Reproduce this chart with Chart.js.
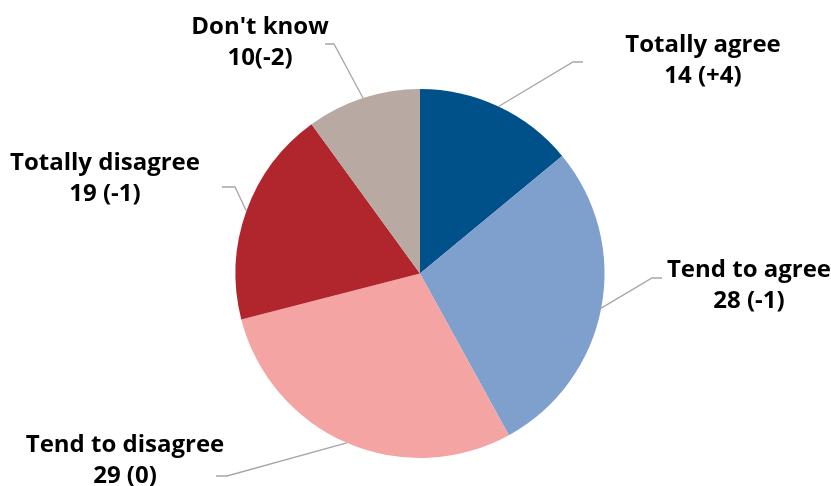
<!DOCTYPE html>
<html>
<head>
<meta charset="utf-8">
<script src="https://cdn.jsdelivr.net/npm/chart.js@4/dist/chart.umd.min.js"></script>
<style>
  html, body { margin: 0; padding: 0; background: #fff; }
  #wrap { width: 831px; height: 486px; position: relative; }
</style>
</head>
<body>
<div id="wrap"><canvas id="pie" width="831" height="486"></canvas></div>
<script>
// data
const categories = ["Totally agree", "Tend to agree", "Tend to disagree", "Totally disagree", "Don't know"];
const values = [14, 28, 29, 19, 10];
const changes = ["(+4)", "(-1)", "(0)", "(-1)", "(-2)"];
const colors = ["#00508a", "#7fa0cc", "#f4a4a3", "#b1252c", "#b8aaa3"];

// label layout: elbow point, end of short horizontal, text centre, first line y
const labelLayout = [
  { elbow: [573, 62], end: [583, 62], tx: 703, ty: 45 },
  { elbow: [652, 278], end: [662, 278], tx: 749, ty: 270 },
  { elbow: [227, 476], end: [216, 476], tx: 125, ty: 445 },
  { elbow: [235, 187], end: [222, 187], tx: 105, ty: 163 },
  { elbow: [334, 44], end: [325, 44], tx: 260, ty: 27 },
];

const leaderLabels = {
  id: "leaderLabels",
  afterDraw(chart) {
    const ctx = chart.ctx;
    const arcs = chart.getDatasetMeta(0).data;
    ctx.save();
    arcs.forEach((arc, i) => {
      const mid = (arc.startAngle + arc.endAngle) / 2;
      const sx = arc.x + Math.cos(mid) * arc.outerRadius;
      const sy = arc.y + Math.sin(mid) * arc.outerRadius;
      const l = labelLayout[i];
      ctx.strokeStyle = "#a6a6a6";
      ctx.lineWidth = 1.3;
      ctx.beginPath();
      ctx.moveTo(sx, sy);
      ctx.lineTo(l.elbow[0], l.elbow[1]);
      ctx.lineTo(l.end[0], l.end[1]);
      ctx.stroke();

      ctx.fillStyle = "#000";
      ctx.font = "bold 24px 'Open Sans', sans-serif";
      ctx.textAlign = "center";
      ctx.textBaseline = "middle";
      ctx.fillText(categories[i], l.tx, l.ty);
      const sep = i === 4 ? "" : " ";
      ctx.fillText(values[i] + sep + changes[i], l.tx, l.ty + 31);
    });
    ctx.restore();
  },
};

new Chart(document.getElementById("pie").getContext("2d"), {
  type: "pie",
  data: {
    labels: categories,
    datasets: [{
      data: values,
      backgroundColor: colors,
      borderWidth: 0,
    }],
  },
  options: {
    responsive: false,
    animation: false,
    layout: { padding: { left: 235, right: 226, top: 89, bottom: 28 } },
    plugins: {
      legend: { display: false },
      tooltip: { enabled: false },
    },
  },
  plugins: [leaderLabels],
});
</script>
</body>
</html>
